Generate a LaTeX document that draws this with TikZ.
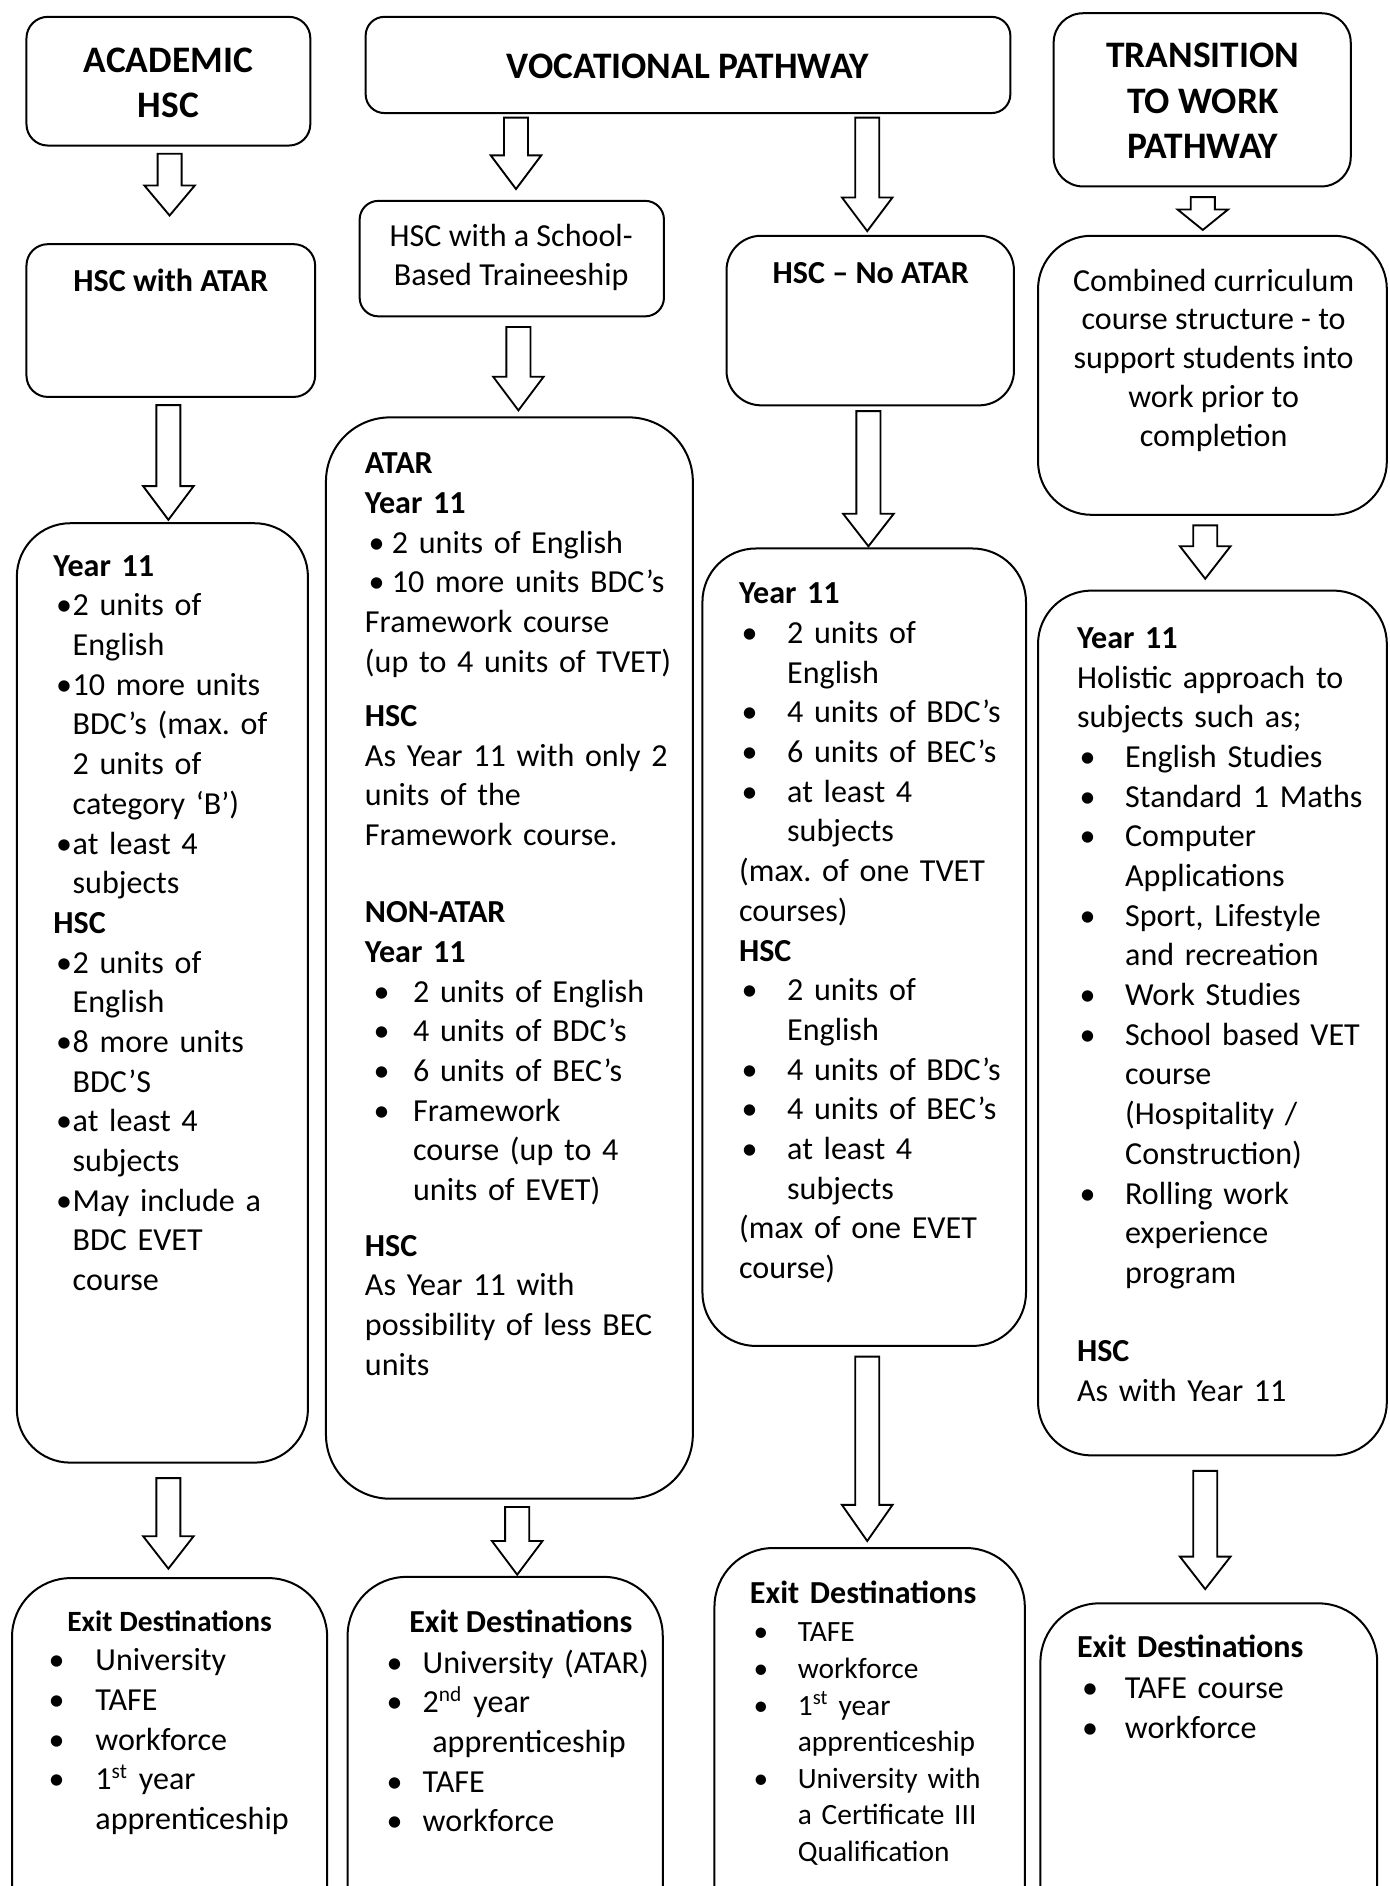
\documentclass[tikz,border=0pt]{standalone}
\usepackage{fontspec}
\setmainfont{Carlito}
\frenchspacing
\usetikzlibrary{calc}

\tikzset{
    box/.style={draw, line width=0.75pt, rounded corners=#1, inner sep=0pt},
    fat/.style={draw, line width=0.7pt, fill=white},
    title/.style={font=\fontsize{14}{17.1}\selectfont\bfseries, align=center, anchor=base, inner sep=0pt},
    head/.style={font=\fontsize{12}{14.85}\selectfont\bfseries, align=center, anchor=base, inner sep=0pt},
    plain/.style={font=\fontsize{12}{14.5}\selectfont, align=center, anchor=base, inner sep=0pt},
    body/.style={font=\fontsize{12}{14.85}\selectfont, align=left, anchor=base west, inner sep=0pt, text width=#1},
    small/.style={font=\fontsize{11}{13.7}\selectfont, align=left, anchor=base west, inner sep=0pt, text width=#1}
}

% box from corner to corner, in px of the page
\newcommand\boxat[6]{%
    \node[box=#6, minimum width={(#4-#2)*0.45pt}, minimum height={(#5-#3)*0.45pt}] (#1) at ({(#2+#4)/2},{(#3+#5)/2}) {};}
% hollow arrow: x, from, to, gap below from, gap above to, head length
\newcommand\fatarrow[6]{%
    \coordinate (tl) at ($(#1,0 |- #2.south)+(0,#4)$);
    \coordinate (tp) at ($(#1,0 |- #3.north)+(0,-#5)$);
    \draw[fat] ($(tl)+(-10,0)$) -- ($(tl)+(10,0)$) -- ($(tp)+(10,-#6)$) -- ($(tp)+(21,-#6)$) -- (tp)
        -- ($(tp)+(-21,-#6)$) -- ($(tp)+(-10,-#6)$) -- cycle;}
% bullet with hanging indent: [start], indent, space before bullet, text
\newcommand\bul[4][\par]{#1\hangindent=#2\hangafter=1\noindent\makebox[#2][l]{\hspace*{#3}\textbullet}#4}

\begin{document}
\begin{tikzpicture}[x=0.45pt, y=-0.45pt]
    \useasboundingbox (0,0) rectangle (1155,1568);
    \clip (0,0) rectangle (1155,1568);

    % academic
    \boxat{a1}{22}{14}{258}{121}{8pt}
    \boxat{a2}{22}{203}{262}{330}{8pt}
    \boxat{a3}{14}{435}{256}{1216}{20pt}
    \boxat{a4}{10}{1312}{272}{1640}{22pt}
    \node[title] (a1t) at (140,98) {ACADEMIC\\HSC};
    \node[head] (a2t) at (142,242) {HSC with ATAR};
    \node[body=110pt] (a3t) at (44,479) {\textbf{Year 11}
        \bul{7.2pt}{1pt}{2 units of\newline English}
        \bul{7.2pt}{1pt}{10 more units\newline BDC’s (max. of\newline 2 units of\newline category ‘B’)}
        \bul{7.2pt}{1pt}{at least 4\newline subjects}
        \par\noindent\textbf{HSC}
        \bul{7.2pt}{1pt}{2 units of\newline English}
        \bul{7.2pt}{1pt}{8 more units\newline BDC’S}
        \bul{7.2pt}{1pt}{at least 4\newline subjects}
        \bul{7.2pt}{1pt}{May include a\newline BDC EVET\newline course}\par};
    \node[head, font=\fontsize{11}{13.7}\selectfont\bfseries] (a4h) at (141,1356) {Exit Destinations};
    \node[body=110pt] (a4t) at (40,1389) {\bul[]{17.5pt}{0pt}{University}
        \bul{17.5pt}{0pt}{TAFE}
        \bul{17.5pt}{0pt}{workforce}
        \bul{17.5pt}{0pt}{1\textsuperscript{st} year\newline apprenticeship}\par};

    % vocational
    \boxat{v1}{304}{14}{840}{94}{7pt}
    \boxat{v2}{299}{167}{552}{263}{7pt}
    \boxat{v3}{271}{347}{576}{1246}{24pt}
    \boxat{v4}{289}{1311}{551}{1640}{22pt}
    \node[title] (v1t) at (572,65) {VOCATIONAL PATHWAY};
    \node[plain] (v2t) at (425,237) {HSC with a School-\\Based Traineeship};
    \node[body=125pt] (v3t) at (303,394) {\textbf{ATAR}\\
        \textbf{Year 11}\\
        \hspace*{1.4pt}\textbullet\hspace{2.7pt}2 units of English\\
        \hspace*{1.4pt}\textbullet\hspace{2.7pt}10 more units BDC’s\\
        Framework course\\
        (up to 4 units of TVET)\par\vspace{5.4pt}
        \noindent\textbf{HSC}\\
        As Year 11 with only 2\\
        units of the\\
        Framework course.\par\vspace{14pt}
        \noindent\textbf{NON-ATAR}\\
        \textbf{Year 11}
        \bul{18pt}{3.2pt}{2 units of English}
        \bul{18pt}{3.2pt}{4 units of BDC’s}
        \bul{18pt}{3.2pt}{6 units of BEC’s}
        \bul{18pt}{3.2pt}{Framework\newline course (up to 4\newline units of EVET)}
        \par\vspace{5.9pt}\noindent\textbf{HSC}\\
        As Year 11 with\\
        possibility of less BEC\\
        units};
    \node[head] (v4h) at (433,1357) {Exit Destinations};
    \node[body=110pt] (v4t) at (321,1391) {\bul[]{13.5pt}{0pt}{University (ATAR)}
        \bul{13.5pt}{0pt}{2\textsuperscript{nd} year\newline\hspace*{3.6pt}apprenticeship}
        \bul{13.5pt}{0pt}{TAFE}
        \bul{13.5pt}{0pt}{workforce}\par};

    % no atar
    \boxat{n1}{604}{196}{843}{337}{13pt}
    \boxat{n2}{584}{456}{853}{1119}{20pt}
    \boxat{n3}{594}{1287}{852}{1640}{22pt}
    \node[head] (n1t) at (724,236) {HSC – No ATAR};
    \node[body=112pt] (n2t) at (614,502) {\textbf{Year 11}
        \bul{18pt}{1pt}{2 units of\newline English}
        \bul{18pt}{1pt}{4 units of BDC’s}
        \bul{18pt}{1pt}{6 units of BEC’s}
        \bul{18pt}{1pt}{at least 4\newline subjects}
        \par\noindent(max. of one TVET\\
        courses)\\
        \textbf{HSC}
        \bul{18pt}{1pt}{2 units of\newline English}
        \bul{18pt}{1pt}{4 units of BDC’s}
        \bul{18pt}{1pt}{4 units of BEC’s}
        \bul{18pt}{1pt}{at least 4\newline subjects}
        \par\noindent(max of one EVET\\
        course)};
    \node[body=110pt] (n3h) at (623,1333) {\textbf{Exit Destinations}};
    \node[small=110pt] (n3t) at (626,1365) {\bul[]{16.6pt}{0pt}{TAFE}
        \bul{16.6pt}{0pt}{workforce}
        \bul{16.6pt}{0pt}{1\textsuperscript{st} year\newline apprenticeship}
        \bul{16.6pt}{0pt}{University with\newline a Certificate III\newline Qualification}\par};

    % transition
    \boxat{t1}{876}{11}{1123}{155}{11pt}
    \boxat{t2}{863}{196}{1153}{428}{20pt}
    \boxat{t3}{863}{491}{1153}{1210}{20pt}
    \boxat{t4}{865}{1333}{1145}{1640}{22pt}
    \node[title] (t1t) at (1000,132) {TRANSITION\\TO WORK\\PATHWAY};
    \node[plain] (t2t) at (1009,371) {Combined curriculum\\course structure - to\\support students into\\work prior to\\completion};
    \node[body=120pt] (t3t) at (895,539) {\textbf{Year 11}\\
        Holistic approach to\\
        subjects such as;
        \bul{18pt}{1pt}{English Studies}
        \bul{18pt}{1pt}{Standard 1 Maths}
        \bul{18pt}{1pt}{Computer\newline Applications}
        \bul{18pt}{1pt}{Sport, Lifestyle\newline and recreation}
        \bul{18pt}{1pt}{Work Studies}
        \bul{18pt}{1pt}{School based VET\newline course\newline (Hospitality /\newline Construction)}
        \bul{18pt}{1pt}{Rolling work\newline experience\newline program}
        \par\vspace{14.4pt}\noindent\textbf{HSC}\\
        As with Year 11};
    \node[body=110pt] (t4h) at (895,1378) {\textbf{Exit Destinations}};
    \node[body=110pt] (t4t) at (897,1412) {\bul[]{17pt}{1pt}{TAFE course}
        \bul{17pt}{1pt}{workforce}\par};

    \fatarrow{141}{a1}{a2}{6}{23}{25}
    \fatarrow{140}{a2}{a3}{6}{2}{28}
    \fatarrow{140}{a3}{a4}{12}{7}{27}
    \fatarrow{429}{v1}{v2}{3}{9}{28}
    \fatarrow{431}{v2}{v3}{8}{5}{28}
    \fatarrow{430}{v3}{v4}{6}{1}{28}
    \fatarrow{721}{v1}{n1}{3}{3}{28}
    \fatarrow{722}{n1}{n2}{4}{1}{27}
    \fatarrow{721}{n2}{n3}{8}{5}{30}
    \fatarrow{1000}{t1}{t2}{8}{4}{17}
    \fatarrow{1002}{t2}{t3}{8}{9}{27}
    \fatarrow{1002}{t3}{t4}{12}{11}{27}
\end{tikzpicture}
\end{document}
